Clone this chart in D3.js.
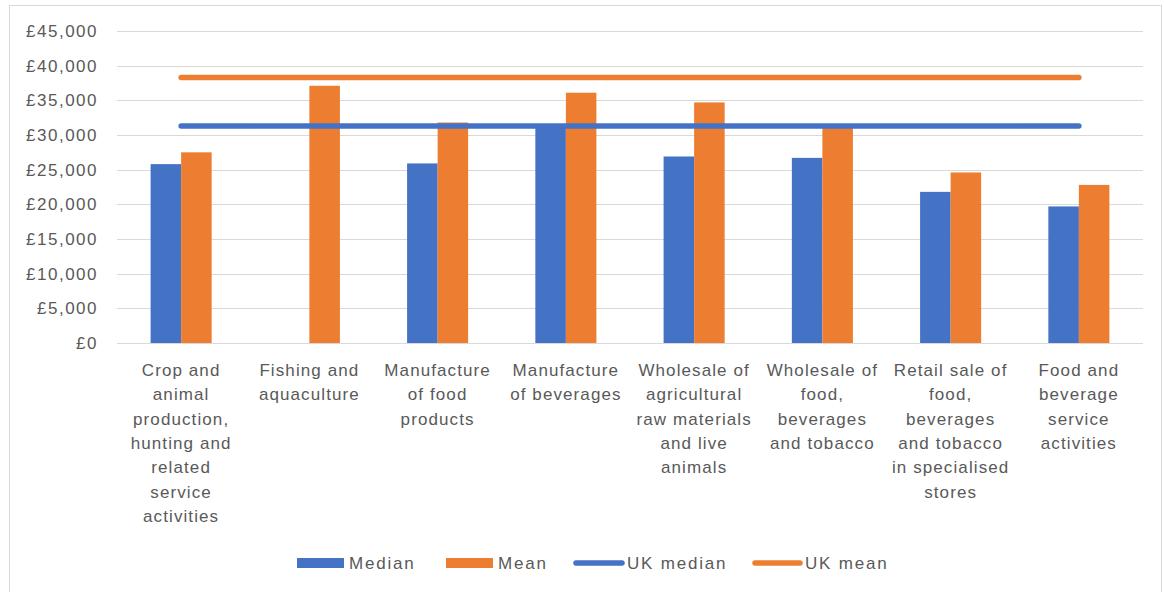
<!DOCTYPE html>
<html>
<head>
<meta charset="utf-8">
<script src="https://cdn.jsdelivr.net/npm/d3@7"></script>
<style>
  html, body { margin: 0; padding: 0; background: #fff; }
  svg { display: block; }
  text { font-family: "Liberation Sans", Arial, sans-serif; fill: #595959; }
</style>
</head>
<body>
<svg id="chart" width="1164" height="592"></svg>
<script>
// Industry labels (line breaks as wrapped under the axis)
const categories = [
  "Crop and\nanimal\nproduction,\nhunting and\nrelated\nservice\nactivities",
  "Fishing and\naquaculture",
  "Manufacture\nof food\nproducts",
  "Manufacture\nof beverages",
  "Wholesale of\nagricultural\nraw materials\nand live\nanimals",
  "Wholesale of\nfood,\nbeverages\nand tobacco",
  "Retail sale of\nfood,\nbeverages\nand tobacco\nin specialised\nstores",
  "Food and\nbeverage\nservice\nactivities"
];
// Annual pay (£) by industry; no median published for fishing
const medianPay = [25800, null, 25900, 31500, 26900, 26700, 21800, 19700];
const meanPay   = [27500, 37100, 31800, 36100, 34700, 31000, 24600, 22800];
// Whole-economy reference levels
const ukMedian = 31300;
const ukMean = 38300;
const yTicks = [0, 5000, 10000, 15000, 20000, 25000, 30000, 35000, 40000, 45000];
const seriesNames = ["Median", "Mean"];
const colors = { "Median": "#4472C4", "Mean": "#ED7D31" };

const svg = d3.select("#chart");

// outer chart frame
svg.append("rect")
  .attr("x", 9.5).attr("y", 5.5)
  .attr("width", 1152).attr("height", 600)
  .attr("fill", "#fff").attr("stroke", "#d9d9d9");

const plot = { left: 117, right: 1143, top: 31, bottom: 343 };

const y = d3.scaleLinear().domain([0, 45000]).range([plot.bottom, plot.top]);
const x = d3.scaleBand().domain(categories).range([plot.left, plot.right]).padding(0);
const bw = x.bandwidth();
const groupW = bw * 0.476;
const xs = d3.scaleBand().domain(seriesNames)
  .range([(bw - groupW) / 2, (bw + groupW) / 2]).padding(0);

const fmt = d3.format(",");

// gridlines
svg.append("g")
  .selectAll("line").data(yTicks).join("line")
  .attr("x1", plot.left).attr("x2", plot.right)
  .attr("y1", d => Math.round(y(d)) + 0.5).attr("y2", d => Math.round(y(d)) + 0.5)
  .attr("stroke", "#d9d9d9").attr("stroke-width", 1);

// y axis labels
const yAxis = d3.axisLeft(y).tickValues(yTicks).tickSize(0).tickPadding(0)
  .tickFormat(d => "£" + fmt(d));
const yg = svg.append("g").attr("transform", `translate(${98},0)`).call(yAxis);
yg.select(".domain").remove();
yg.selectAll("text")
  .attr("font-size", 17).attr("letter-spacing", "1.5px")
  .style("font-family", "'Liberation Sans', Arial, sans-serif")
  .attr("fill", "#595959");

// bars
const rows = categories.map((c, i) => ({ cat: c, Median: medianPay[i], Mean: meanPay[i] }));
const groups = svg.append("g").selectAll("g").data(rows).join("g")
  .attr("transform", d => `translate(${x(d.cat)},0)`);
groups.selectAll("rect")
  .data(d => seriesNames.filter(k => d[k] != null).map(k => ({ key: k, value: d[k] })))
  .join("rect")
  .attr("x", d => xs(d.key))
  .attr("width", xs.bandwidth())
  .attr("y", d => y(d.value))
  .attr("height", d => y(0) - y(d.value))
  .attr("fill", d => colors[d.key]);

// UK reference lines spanning first to last category centre
const refLine = v => d3.line()
  .x(c => x(c) + bw / 2)
  .y(() => y(v))([categories[0], categories[categories.length - 1]]);
svg.append("path").attr("d", refLine(ukMedian))
  .attr("stroke", "#4472C4").attr("stroke-width", 5.5).attr("stroke-linecap", "round").attr("fill", "none");
svg.append("path").attr("d", refLine(ukMean))
  .attr("stroke", "#ED7D31").attr("stroke-width", 5.5).attr("stroke-linecap", "round").attr("fill", "none");

// category labels
const xl = svg.append("g");
categories.forEach(c => {
  const cx = x(c) + bw / 2;
  const t = xl.append("text")
    .attr("x", cx)
    .attr("y", 376)
    .attr("text-anchor", "middle")
    .attr("font-size", 17)
    .attr("letter-spacing", "1.1px");
  c.split("\n").forEach((line, i) => {
    t.append("tspan").attr("x", cx).attr("dy", i === 0 ? 0 : 24.3).text(line);
  });
});

// legend
const legend = svg.append("g");
const legendItems = [
  { name: "Median", type: "bar", color: "#4472C4", x0: 297, x1: 344 },
  { name: "Mean", type: "bar", color: "#ED7D31", x0: 446, x1: 493 },
  { name: "UK median", type: "line", color: "#4472C4", x0: 576, x1: 622 },
  { name: "UK mean", type: "line", color: "#ED7D31", x0: 755, x1: 800 }
];
const ly = 563;
legendItems.forEach(it => {
  if (it.type === "bar") {
    legend.append("rect").attr("x", it.x0).attr("y", ly - 5)
      .attr("width", it.x1 - it.x0).attr("height", 10).attr("fill", it.color);
    legend.append("text").attr("x", it.x1 + 5).attr("y", ly + 6)
      .attr("font-size", 17).attr("letter-spacing", "1.8px").text(it.name);
  } else {
    legend.append("line").attr("x1", it.x0).attr("x2", it.x1)
      .attr("y1", ly).attr("y2", ly)
      .attr("stroke", it.color).attr("stroke-width", 5.5).attr("stroke-linecap", "round");
    legend.append("text").attr("x", it.x1 + 5).attr("y", ly + 6)
      .attr("font-size", 17).attr("letter-spacing", "1.8px").text(it.name);
  }
});
</script>
</body>
</html>
